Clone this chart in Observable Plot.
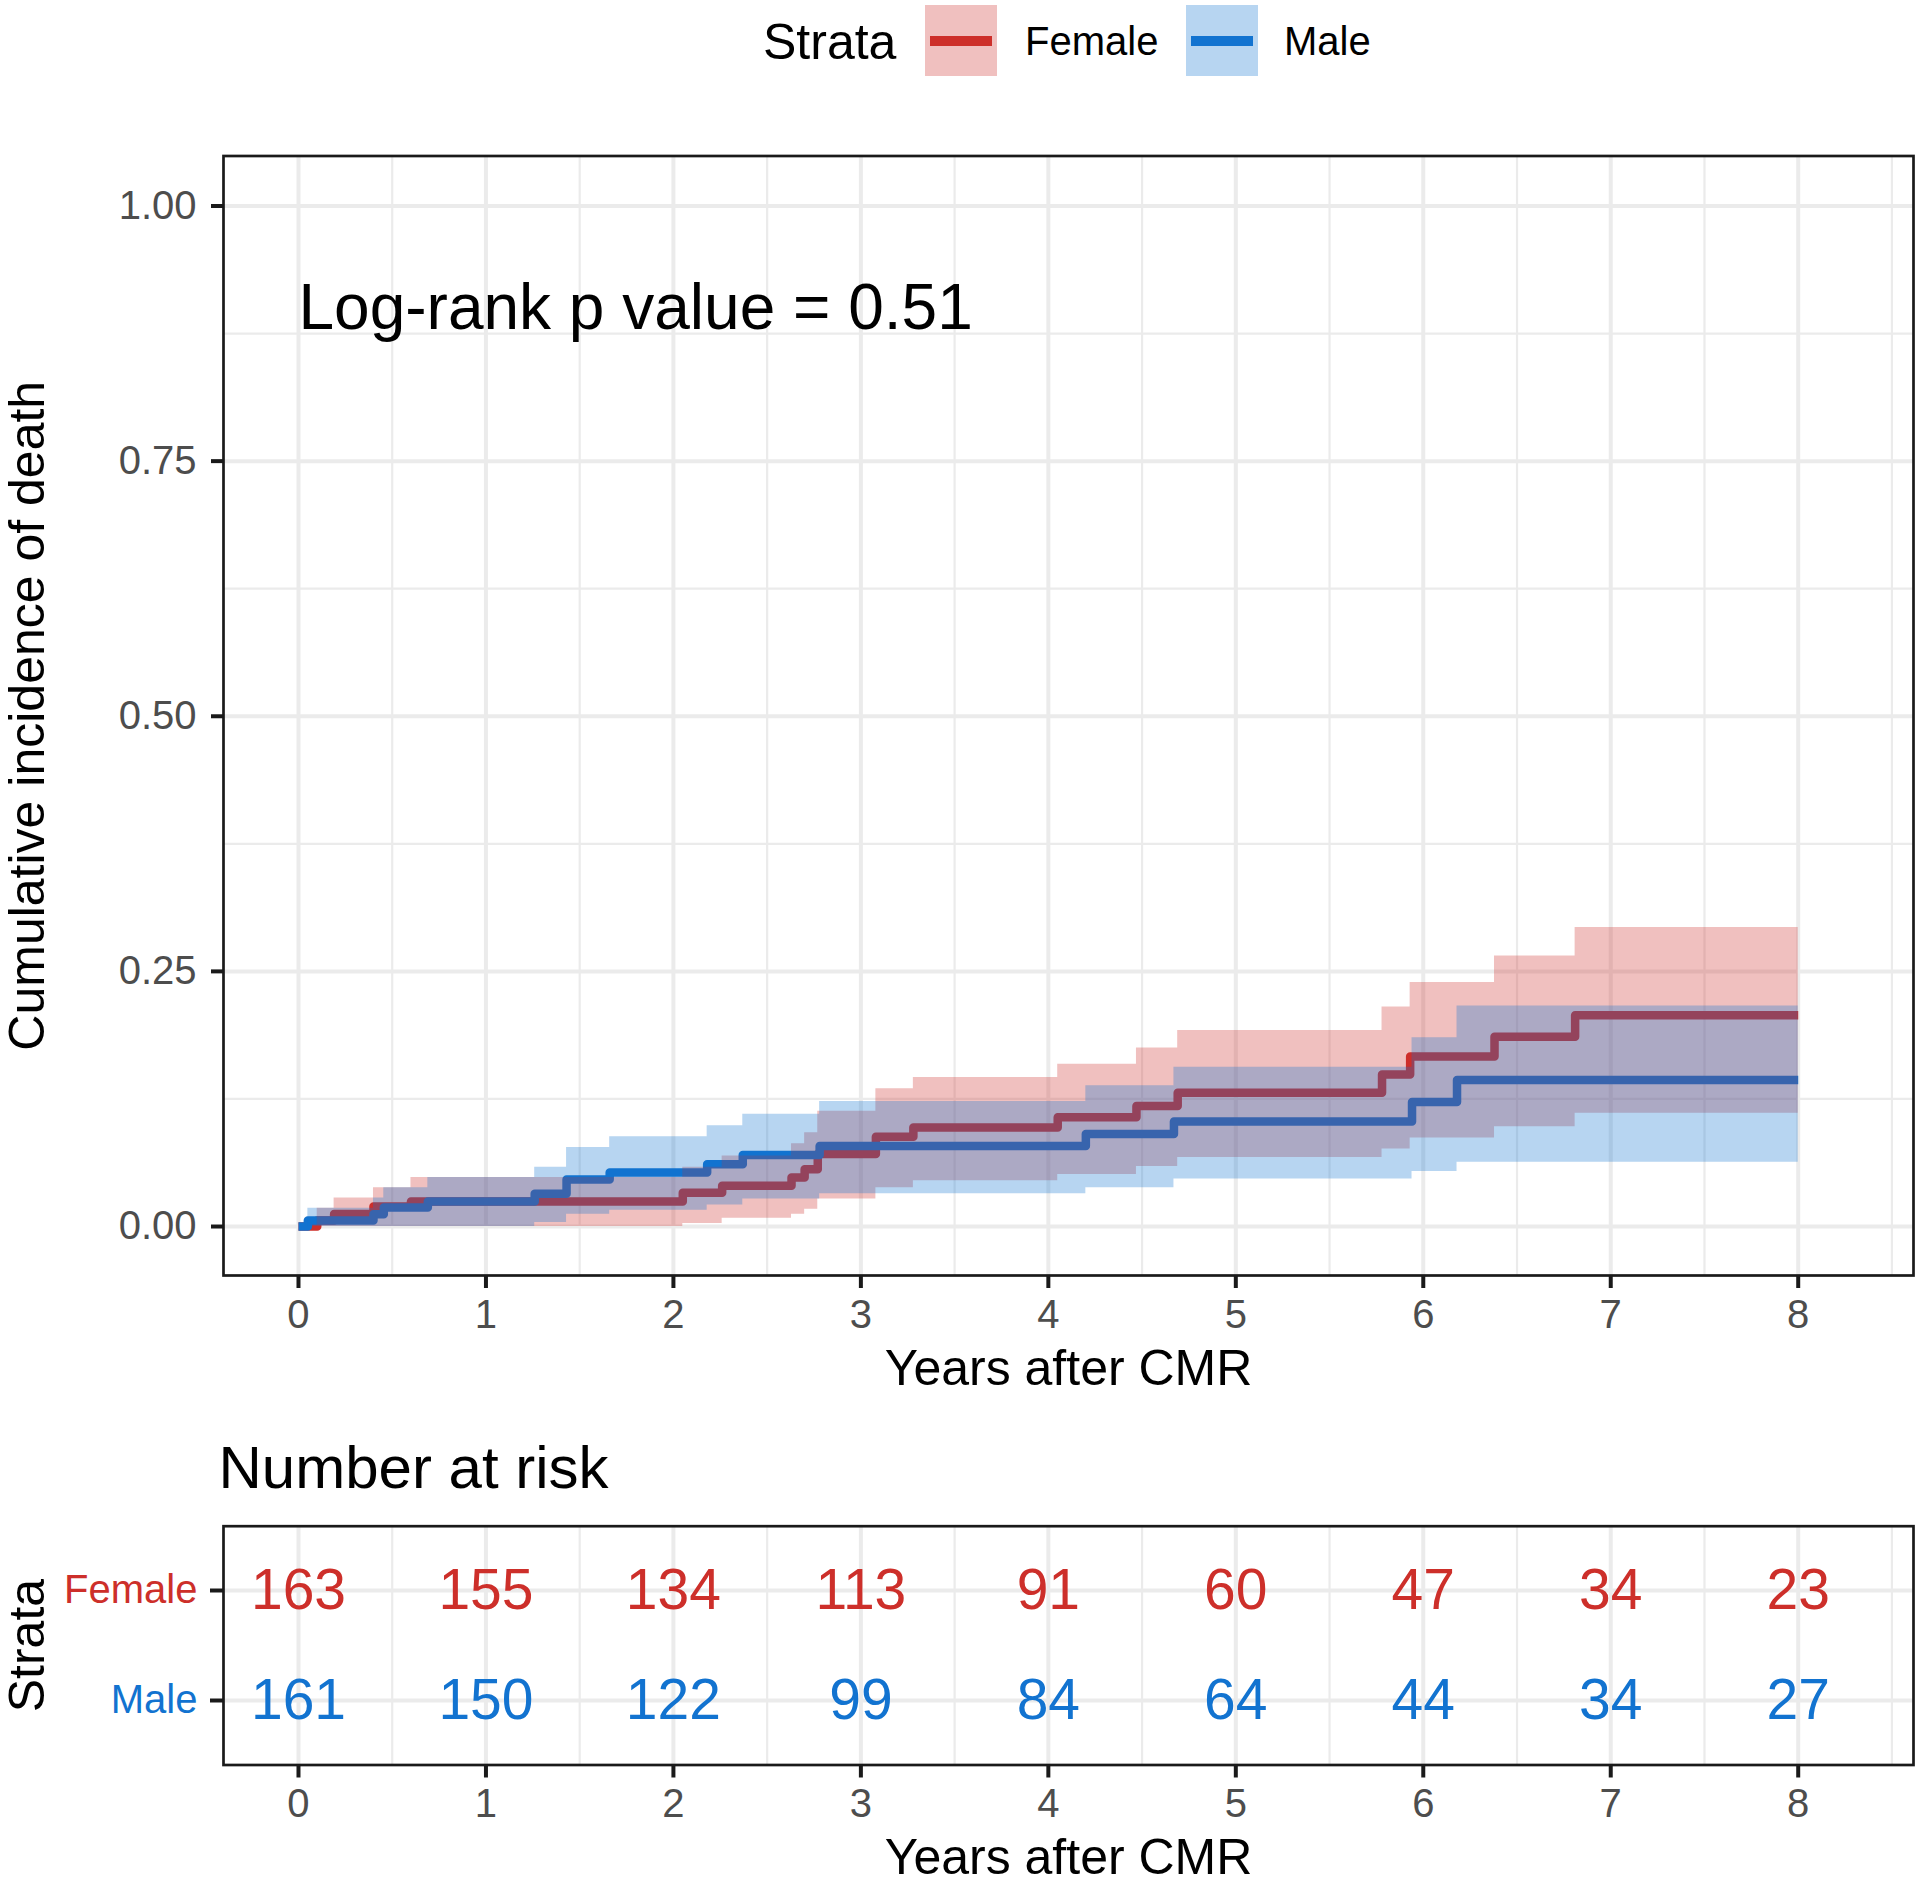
<!DOCTYPE html>
<html>
<head>
<meta charset="utf-8">
<script src="https://cdn.jsdelivr.net/npm/d3@7"></script>
<script src="https://cdn.jsdelivr.net/npm/@observablehq/plot@0.6"></script>
<style>
  html, body { margin: 0; padding: 0; background: white; }
  #page { width: 1920px; height: 1883px; position: relative; font-family: "Liberation Sans", Arial, sans-serif; }
  #legend { position: relative; width: 1920px; height: 100px; }
  #legend .t { position: absolute; line-height: 1; white-space: nowrap; color: #000; }
  #legend .key { position: absolute; top: 5px; width: 72px; height: 71px; }
  #legend .key .ln { position: absolute; left: 5px; top: 31px; width: 62px; height: 10px; }
  svg { display: block; }
</style>
</head>
<body>
<div id="page">
  <div id="legend"></div>
  <div id="main"></div>
  <div id="table"></div>
</div>
<script>
// ---------------- data ----------------
const strata = ["Female", "Male"];
const strataColors = ["#CD2F2A", "#1273D0"];

const femaleTime  = [0, 0.10, 0.19, 0.40, 0.60, 2.05, 2.26, 2.63, 2.70, 2.77, 3.08, 3.28, 4.05, 4.47, 4.69, 5.78, 5.93, 6.38, 6.81, 8.00];
const femaleEst   = [0, 0.006, 0.0123, 0.0195, 0.0245, 0.033, 0.040, 0.048, 0.056, 0.071, 0.088, 0.097, 0.107, 0.118, 0.131, 0.149, 0.1667, 0.186, 0.207, 0.207];
const femaleLower = [0, 0, 0, 0, 0, 0.003, 0.008, 0.012, 0.017, 0.027, 0.038, 0.0448, 0.051, 0.0588, 0.0676, 0.076, 0.0867, 0.0977, 0.111, 0.111];
const femaleUpper = [0, 0.018, 0.028, 0.038, 0.048, 0.058, 0.069, 0.081, 0.092, 0.113, 0.135, 0.146, 0.159, 0.175, 0.192, 0.215, 0.239, 0.265, 0.293, 0.293];

const maleTime  = [0, 0.05, 0.40, 0.455, 0.69, 1.26, 1.43, 1.66, 2.18, 2.37, 2.78, 4.20, 4.67, 5.94, 6.18, 8.00];
const maleEst   = [0, 0.006, 0.012, 0.0186, 0.0245, 0.032, 0.046, 0.053, 0.061, 0.070, 0.079, 0.0906, 0.103, 0.122, 0.1435, 0.1435];
const maleLower = [0, 0, 0, 0, 0, 0.004, 0.012, 0.016, 0.021, 0.027, 0.032, 0.038, 0.0465, 0.054, 0.063, 0.063];
const maleUpper = [0, 0.018, 0.028, 0.038, 0.048, 0.058, 0.0775, 0.088, 0.0987, 0.110, 0.1226, 0.138, 0.156, 0.185, 0.216, 0.216];

const riskTimes     = [0, 1, 2, 3, 4, 5, 6, 7, 8];
const femaleAtRisk  = [163, 155, 134, 113, 91, 60, 47, 34, 23];
const maleAtRisk    = [161, 150, 122, 99, 84, 64, 44, 34, 27];

const xTicks = [0, 1, 2, 3, 4, 5, 6, 7, 8];
const xMinor = [0.5, 1.5, 2.5, 3.5, 4.5, 5.5, 6.5, 7.5, 8.5];
const yTicks = [0, 0.25, 0.5, 0.75, 1];
const yMinor = [0.125, 0.375, 0.625, 0.875];

const xLabel = "Years after CMR";
const yLabel = "Cumulative incidence of death";
const tableTitle = "Number at risk";
const tableYLabel = "Strata";
const legendTitle = "Strata";
const pValue = [{t: 0, v: 0.9, label: "Log-rank p value = 0.51"}];

// ---------------- helpers ----------------
const FONT = "'Liberation Sans', Arial, sans-serif";
const GRID = "#EBEBEB";
const INK = "#1A1A1A";
const TICKTEXT = "#4D4D4D";
const xDomain = [-0.4, 8.615];

function rows(name, time, est, lo, hi) {
  return time.map((t, i) => ({strata: name, t, est: est[i], lo: lo[i], hi: hi[i]}));
}
const femaleRows = rows("Female", femaleTime, femaleEst, femaleLower, femaleUpper);
const maleRows = rows("Male", maleTime, maleEst, maleLower, maleUpper);
const riskRows = [
  ...riskTimes.map((t, i) => ({strata: "Female", t, n: femaleAtRisk[i]})),
  ...riskTimes.map((t, i) => ({strata: "Male", t, n: maleAtRisk[i]}))
];

// ---------------- legend ----------------
const legend = document.getElementById("legend");
legend.innerHTML = `
  <div class="t" style="left:763px; top:17px; font-size:50px;">${legendTitle}</div>
  <div class="key" style="left:925px; background: rgba(205,47,42,0.3);"><div class="ln" style="background:${strataColors[0]}"></div></div>
  <div class="t" style="left:1025px; top:21px; font-size:40px;">${strata[0]}</div>
  <div class="key" style="left:1186px; background: rgba(18,115,208,0.3);"><div class="ln" style="background:${strataColors[1]}"></div></div>
  <div class="t" style="left:1284px; top:21px; font-size:40px;">${strata[1]}</div>
`;

// ---------------- main plot ----------------
const main = Plot.plot({
  width: 1920,
  height: 1320,
  marginLeft: 223,
  marginRight: 7,
  marginTop: 55.5,
  marginBottom: 145,
  style: {fontFamily: FONT, background: "white", overflow: "visible"},
  x: {domain: xDomain},
  y: {domain: [-0.048, 1.049]},
  marks: [
    Plot.ruleX(xMinor, {stroke: GRID, strokeWidth: 2.2}),
    Plot.ruleY(yMinor, {stroke: GRID, strokeWidth: 2.2}),
    Plot.ruleX(xTicks, {stroke: GRID, strokeWidth: 4}),
    Plot.ruleY(yTicks, {stroke: GRID, strokeWidth: 4}),
    Plot.line(femaleRows, {x: "t", y: "est", curve: "step-after", stroke: strataColors[0], strokeWidth: 8.5, strokeLinejoin: "round", strokeLinecap: "butt"}),
    Plot.line(maleRows, {x: "t", y: "est", curve: "step-after", stroke: strataColors[1], strokeWidth: 8.5, strokeLinejoin: "round", strokeLinecap: "butt"}),
    Plot.areaY(femaleRows, {x: "t", y1: "lo", y2: "hi", curve: "step-after", fill: strataColors[0], fillOpacity: 0.3}),
    Plot.areaY(maleRows, {x: "t", y1: "lo", y2: "hi", curve: "step-after", fill: strataColors[1], fillOpacity: 0.3}),
    Plot.text(pValue, {x: "t", y: "v", text: "label", textAnchor: "start", lineAnchor: "middle", fontSize: 64, fill: "black"}),
    Plot.frame({stroke: INK, strokeWidth: 2.7}),
    Plot.axisX({ticks: xTicks, tickFormat: d3.format("d"), tickSize: 13, tickPadding: 11, fontSize: 40, fill: TICKTEXT, stroke: INK, strokeWidth: 4, label: null}),
    Plot.axisY({ticks: yTicks, tickFormat: d3.format(".2f"), tickSize: 12, tickPadding: 15, fontSize: 40, fill: TICKTEXT, stroke: INK, strokeWidth: 4, label: null}),
    Plot.text([xLabel], {frameAnchor: "bottom", dy: 93, lineAnchor: "middle", textAnchor: "middle", fontSize: 50, fill: "black"}),
    Plot.text([yLabel], {frameAnchor: "left", dx: -196, rotate: -90, lineAnchor: "middle", textAnchor: "middle", fontSize: 50, fill: "black"})
  ]
});
document.getElementById("main").appendChild(main);

// ---------------- risk table ----------------
const table = Plot.plot({
  width: 1920,
  height: 463,
  marginLeft: 223,
  marginRight: 7,
  marginTop: 105.7,
  marginBottom: 118.5,
  style: {fontFamily: FONT, background: "white", overflow: "visible"},
  x: {domain: xDomain},
  y: {type: "point", domain: strata, padding: 0.585},
  color: {domain: strata, range: strataColors},
  marks: [
    Plot.ruleX(xMinor, {stroke: GRID, strokeWidth: 2.2}),
    Plot.ruleX(xTicks, {stroke: GRID, strokeWidth: 4}),
    Plot.ruleY(strata, {y: d => d, stroke: GRID, strokeWidth: 4}),
    Plot.text(riskRows, {x: "t", y: "strata", text: d => String(d.n), fill: "strata", fontSize: 57}),
    Plot.frame({stroke: INK, strokeWidth: 2.7}),
    Plot.axisX({ticks: xTicks, tickFormat: d3.format("d"), tickSize: 13, tickPadding: 11, fontSize: 40, fill: TICKTEXT, stroke: INK, strokeWidth: 4, label: null}),
    Plot.axisY({tickSize: 13, tickFormat: () => "", stroke: INK, strokeWidth: 4, label: null}),
    Plot.text(strata, {y: d => d, frameAnchor: "left", dx: -26, textAnchor: "end", lineAnchor: "middle", fill: d => d, fontSize: 40}),
    Plot.text([tableTitle], {frameAnchor: "top-left", dx: -5, dy: -57, textAnchor: "start", lineAnchor: "middle", fontSize: 60, fill: "black"}),
    Plot.text([xLabel], {frameAnchor: "bottom", dy: 93, lineAnchor: "middle", textAnchor: "middle", fontSize: 50, fill: "black"}),
    Plot.text([tableYLabel], {frameAnchor: "left", dx: -196, rotate: -90, lineAnchor: "middle", textAnchor: "middle", fontSize: 50, fill: "black"})
  ]
});
document.getElementById("table").appendChild(table);
</script>
</body>
</html>
